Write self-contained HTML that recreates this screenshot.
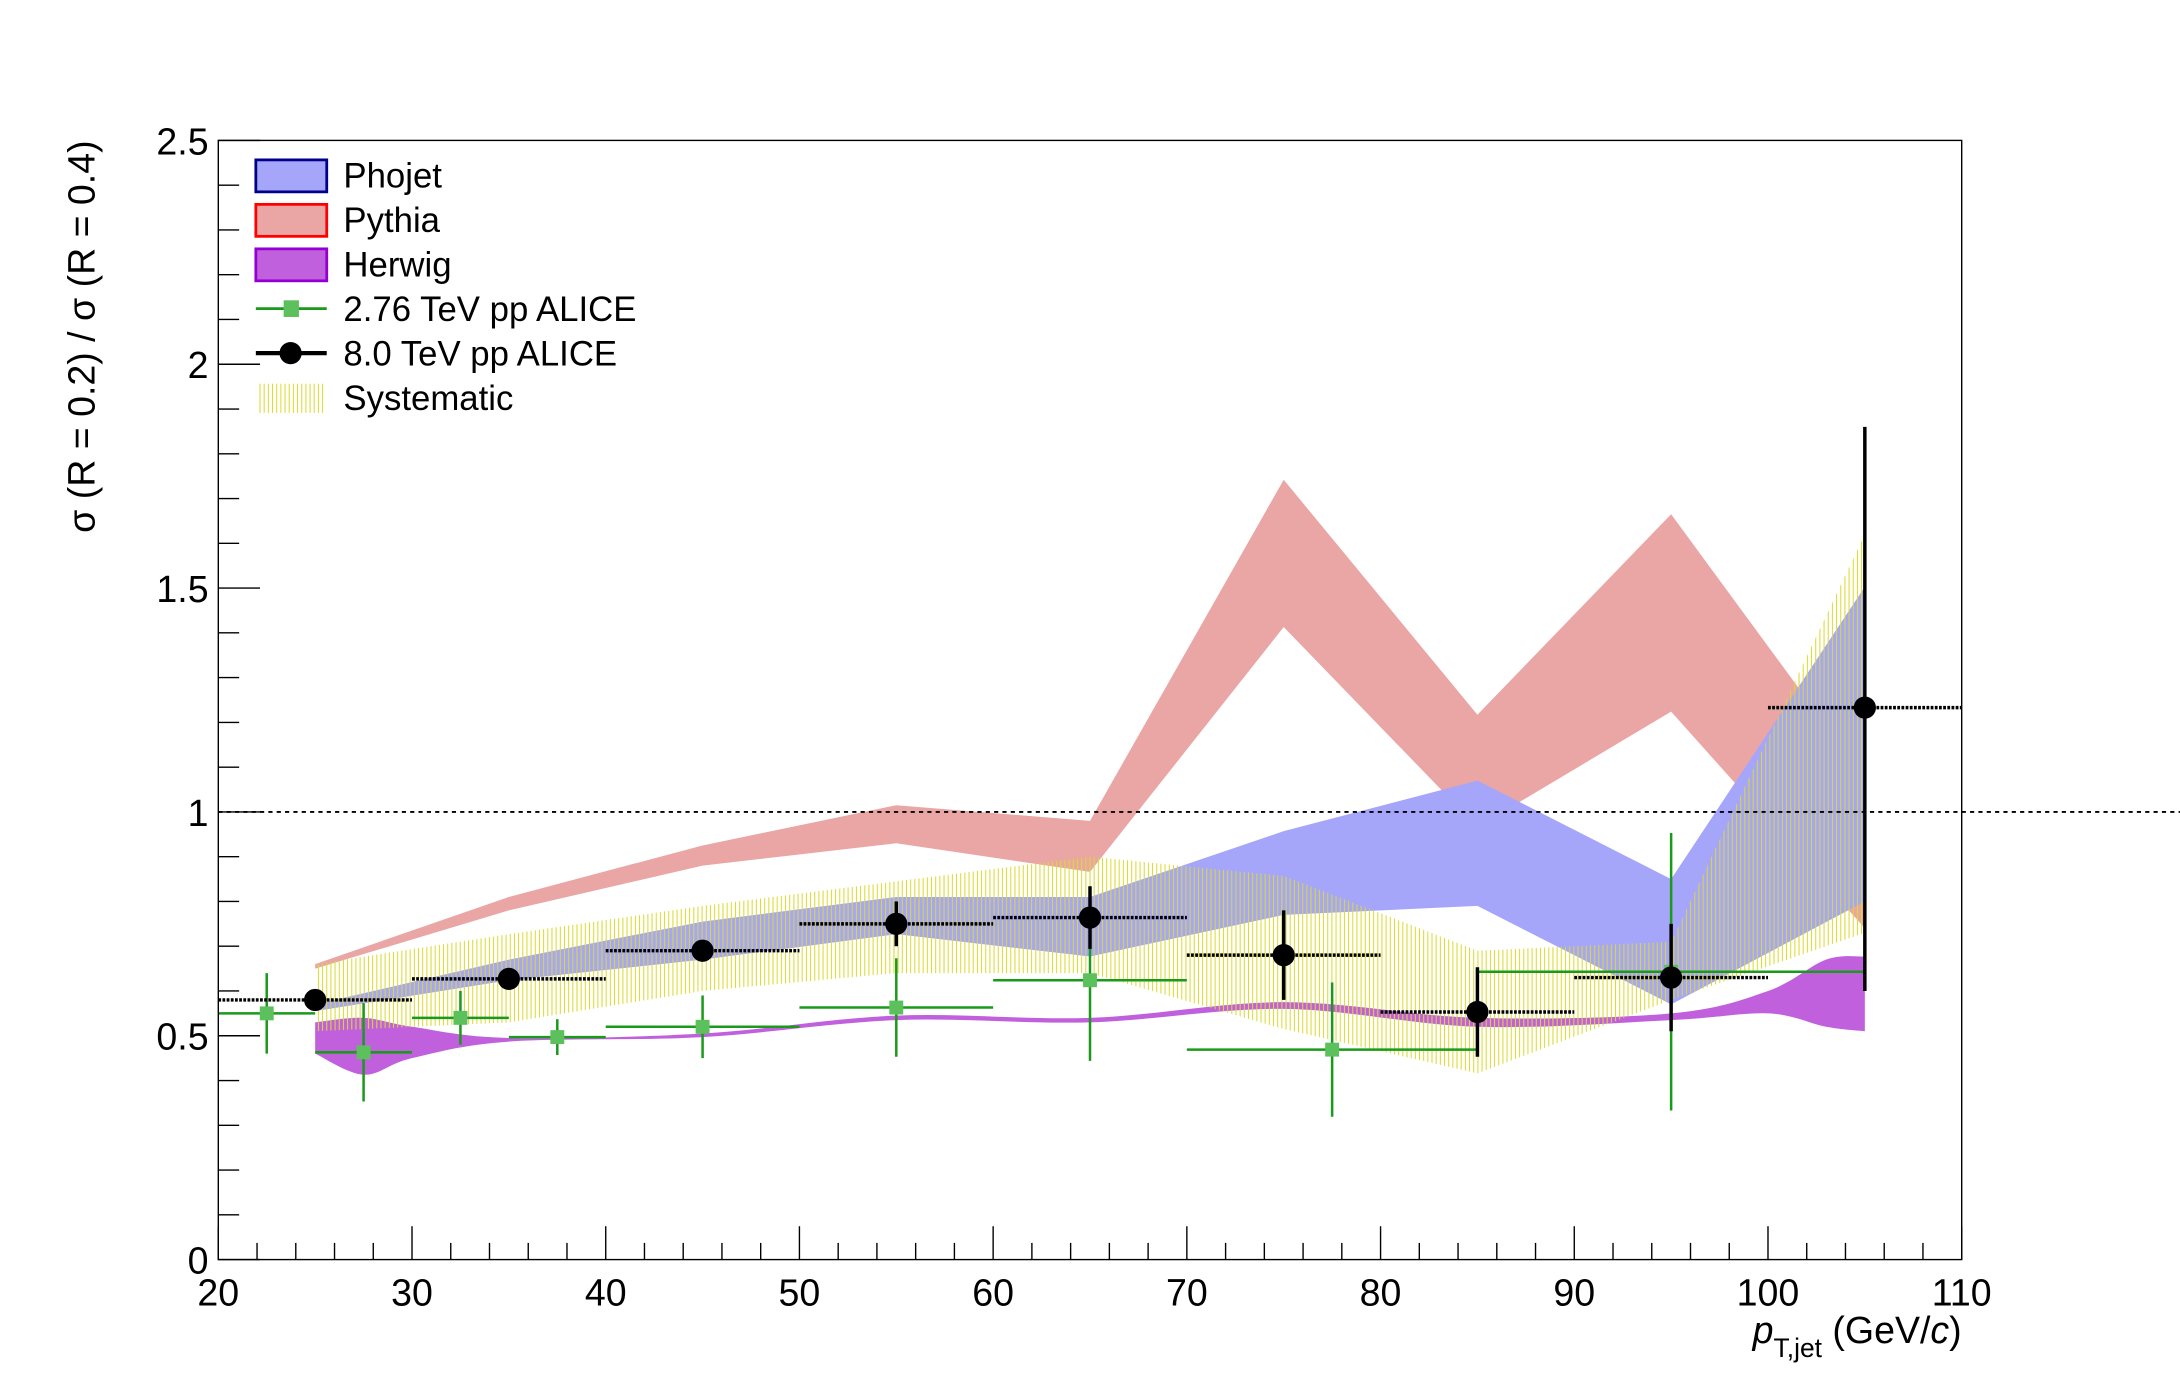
<!DOCTYPE html>
<html><head><meta charset="utf-8"><style>
html,body{margin:0;padding:0;background:#fff;width:2180px;height:1400px;overflow:hidden}
svg{display:block;font-family:"Liberation Sans",sans-serif}
</style></head><body>
<svg id="chart" width="2180" height="1400" viewBox="0 0 1568 1007" xmlns="http://www.w3.org/2000/svg">
<defs>
<pattern id="hatch" patternUnits="userSpaceOnUse" width="3" height="10">
<line x1="1" y1="0" x2="1" y2="10" stroke="#dada30" stroke-width="0.75"/>
</pattern>
<clipPath id="clipPlot"><rect x="157" y="101" width="1254" height="805"/></clipPath>
</defs>
<g id="bands" clip-path="url(#clipPlot)"></g>
<g id="marks"></g>
<g id="axes"></g>
<g id="legend"></g>
</svg>
<script>
// ---- data ----
const bandX = [25, 35, 45, 55, 65, 75, 85, 95, 105];
const pythiaUp = [0.66, 0.81, 0.925, 1.015, 0.98, 1.742, 1.217, 1.665, 1.075];
const pythiaLo = [0.65, 0.78, 0.88, 0.93, 0.866, 1.413, 0.966, 1.224, 0.74];
const phojetUp = [0.57, 0.67, 0.755, 0.81, 0.81, 0.957, 1.07, 0.85, 1.503];
const phojetLo = [0.555, 0.624, 0.67, 0.727, 0.677, 0.77, 0.79, 0.57, 0.8];
const herwigX = [25, 27.5, 30, 35, 45, 55, 65, 75, 85, 95, 100, 103, 105];
const herwigUp = [0.53, 0.54, 0.52, 0.495, 0.505, 0.545, 0.54, 0.575, 0.54, 0.55, 0.6, 0.67, 0.677];
const herwigLo = [0.46, 0.413, 0.45, 0.487, 0.497, 0.535, 0.53, 0.56, 0.52, 0.535, 0.55, 0.52, 0.51];
const sysUp = [0.66, 0.727, 0.79, 0.845, 0.9, 0.857, 0.69, 0.71, 1.62];
const sysLo = [0.51, 0.53, 0.6, 0.64, 0.64, 0.515, 0.416, 0.58, 0.73];
const p8X = [25, 35, 45, 55, 65, 75, 85, 95, 105];
const p8Y = [0.58, 0.627, 0.69, 0.75, 0.764, 0.68, 0.553, 0.63, 1.233];
const p8ErrUp = [0.02, 0.02, 0.02, 0.05, 0.07, 0.1, 0.1, 0.12, 0.627];
const p8ErrLo = [0.02, 0.02, 0.02, 0.05, 0.07, 0.1, 0.1, 0.12, 0.633];
const p8Xerr = [5, 5, 5, 5, 5, 5, 5, 5, 5];
const p2X = [22.5, 27.5, 32.5, 37.5, 45, 55, 65, 77.5, 95];
const p2Y = [0.55, 0.463, 0.54, 0.497, 0.52, 0.563, 0.624, 0.469, 0.643];
const p2Err = [0.09, 0.11, 0.06, 0.04, 0.07, 0.11, 0.18, 0.15, 0.31];
const p2Xerr = [2.5, 2.5, 2.5, 2.5, 5, 5, 5, 7.5, 10];
const xTicks = [20, 30, 40, 50, 60, 70, 80, 90, 100, 110];
const yTicks = [0, 0.5, 1, 1.5, 2, 2.5];
const yTickLabels = ["0", "0.5", "1", "1.5", "2", "2.5"];

const X0 = 157, X1 = 1411, Y0 = 906, Y1 = 101;
const sx = v => X0 + (v - 20) / 90 * (X1 - X0);
const sy = v => Y0 - v / 2.5 * (Y0 - Y1);
const NS = "http://www.w3.org/2000/svg";
function mk(tag, attrs, parent) {
  const e = document.createElementNS(NS, tag);
  for (const k in attrs) e.setAttribute(k, attrs[k]);
  parent.appendChild(e);
  return e;
}
const bands = document.getElementById('bands');
const marks = document.getElementById('marks');
const axes = document.getElementById('axes');
const legend = document.getElementById('legend');

function bandPath(xs, up, lo) {
  let d = "M" + xs.map((x, i) => sx(x) + "," + sy(up[i])).join(" L");
  d += " L" + xs.map((x, i) => sx(x) + "," + sy(lo[i])).reverse().join(" L") + " Z";
  return d;
}
function smoothBand(xs, up, lo) {
  function cr(pts) {
    let d = "";
    for (let i = 0; i < pts.length - 1; i++) {
      const p0 = pts[Math.max(0, i - 1)], p1 = pts[i], p2 = pts[i + 1], p3 = pts[Math.min(pts.length - 1, i + 2)];
      const c1 = [p1[0] + (p2[0] - p0[0]) / 6, p1[1] + (p2[1] - p0[1]) / 6];
      const c2 = [p2[0] - (p3[0] - p1[0]) / 6, p2[1] - (p3[1] - p1[1]) / 6];
      d += " C" + c1 + " " + c2 + " " + p2;
    }
    return d;
  }
  const u = xs.map((x, i) => [sx(x), sy(up[i])]);
  const l = xs.map((x, i) => [sx(x), sy(lo[i])]).reverse();
  return "M" + u[0] + cr(u) + " L" + l[0] + cr(l) + " Z";
}

const pyth = mk('path', {d: bandPath(bandX, pythiaUp, pythiaLo), fill: '#eaa5a5'}, bands);


const pho = mk('path', {d: bandPath(bandX, phojetUp, phojetLo), fill: '#a5a5fa'}, bands);


const her = mk('path', {d: smoothBand(herwigX, herwigUp, herwigLo), fill: '#c060dd'}, bands);


const sys = mk('path', {d: bandPath(bandX, sysUp, sysLo), fill: 'url(#hatch)'}, bands);



const dl = mk('line', {x1: X0, x2: 1568, y1: sy(1), y2: sy(1), stroke: '#000', 'stroke-width': 1.3, 'stroke-dasharray': '3,3'}, marks);



p2X.forEach((x, i) => {
  const g = mk('g', {}, marks);
  
  
  mk('line', {x1: sx(x - p2Xerr[i]), x2: sx(x + p2Xerr[i]), y1: sy(p2Y[i]), y2: sy(p2Y[i]), stroke: '#1a9a1a', 'stroke-width': 1.8}, g);
  mk('line', {x1: sx(x), x2: sx(x), y1: sy(p2Y[i] + p2Err[i]), y2: sy(p2Y[i] - p2Err[i]), stroke: '#1a9a1a', 'stroke-width': 1.8}, g);
  mk('rect', {x: sx(x) - 5, y: sy(p2Y[i]) - 5, width: 10, height: 10, fill: '#5cc05c'}, g);
});
p8X.forEach((x, i) => {
  const g = mk('g', {}, marks);
  
  
  const inSys = p8Y[i] < sysUp[bandX.indexOf(x)] && p8Y[i] > sysLo[bandX.indexOf(x)];
  const hl = {x1: sx(x - p8Xerr[i]), x2: sx(x + p8Xerr[i]), y1: sy(p8Y[i]), y2: sy(p8Y[i]), stroke: '#000', 'stroke-width': 2.5};
  if (inSys) hl['stroke-dasharray'] = '2,1';
  mk('line', hl, g);
  mk('line', {x1: sx(x), x2: sx(x), y1: sy(p8Y[i] + p8ErrUp[i]), y2: sy(p8Y[i] - p8ErrLo[i]), stroke: '#000', 'stroke-width': 2.5}, g);
  mk('circle', {cx: sx(x), cy: sy(p8Y[i]), r: 8, fill: '#000'}, g);
});

const fr = mk('rect', {x: X0, y: Y1, width: X1 - X0, height: Y0 - Y1, fill: 'none', stroke: '#000', 'stroke-width': 1}, axes);


for (let v = 20; v <= 110; v += 2) {
  const major = v % 10 === 0;
  mk('line', {x1: sx(v), x2: sx(v), y1: Y0, y2: Y0 - (major ? 24 : 12), stroke: '#000', 'stroke-width': 1}, axes);
}
xTicks.forEach(v => {
  const t = mk('text', {x: sx(v), y: 939, 'text-anchor': 'middle', 'font-size': 27}, axes);
  t.textContent = v;
  
  
});
for (let k = 0; k <= 25; k++) {
  const v = k / 10;
  const major = k % 5 === 0;
  mk('line', {x1: X0, x2: X0 + (major ? 30 : 15), y1: sy(v), y2: sy(v), stroke: '#000', 'stroke-width': 1}, axes);
}
yTicks.forEach((v, i) => {
  const t = mk('text', {x: 150, y: sy(v) + 10, 'text-anchor': 'end', 'font-size': 27}, axes);
  t.textContent = yTickLabels[i];
  
  
});
const yt = mk('text', {x: 0, y: 0, 'text-anchor': 'end', 'font-size': 27, transform: 'translate(68,101) rotate(-90)'}, axes);
yt.textContent = 'σ (R = 0.2) / σ (R = 0.4)';


const xt = mk('text', {x: 1411, y: 966, 'text-anchor': 'end', 'font-size': 27}, axes);


xt.innerHTML = '<tspan font-style="italic">p</tspan><tspan font-size="19" dy="10">T,jet</tspan><tspan dy="-10"> (GeV/</tspan><tspan font-style="italic">c</tspan><tspan>)</tspan>';

const legItems = [
  {name: 'Phojet', type: 'box', fill: '#a5a5fa', stroke: '#00008b'},
  {name: 'Pythia', type: 'box', fill: '#eaa5a5', stroke: '#ff0000'},
  {name: 'Herwig', type: 'box', fill: '#c060dd', stroke: '#9400d3'},
  {name: '2.76 TeV pp ALICE', type: 'green'},
  {name: '8.0 TeV pp ALICE', type: 'black'},
  {name: 'Systematic', type: 'hatch'}
];
legItems.forEach((it, i) => {
  const cy = 126 + i * 32;
  const g = mk('g', {}, legend);
  
  
  if (it.type === 'box') mk('rect', {x: 184, y: cy - 11, width: 51, height: 23, fill: it.fill, stroke: it.stroke, 'stroke-width': 2}, g);
  if (it.type === 'green') {
    mk('line', {x1: 184, x2: 235, y1: cy, y2: cy, stroke: '#1a9a1a', 'stroke-width': 2}, g);
    mk('rect', {x: 204, y: cy - 6, width: 11, height: 12, fill: '#5cc05c'}, g);
  }
  if (it.type === 'black') {
    mk('line', {x1: 184, x2: 235, y1: cy, y2: cy, stroke: '#000', 'stroke-width': 3}, g);
    mk('circle', {cx: 209, cy: cy, r: 8, fill: '#000'}, g);
  }
  if (it.type === 'hatch') mk('rect', {x: 186, y: cy - 10, width: 47, height: 21, fill: 'url(#hatch)'}, g);
  const t = mk('text', {x: 247, y: cy + 9, 'font-size': 25}, g);
  t.textContent = it.name;
});
</script>
</body></html>
